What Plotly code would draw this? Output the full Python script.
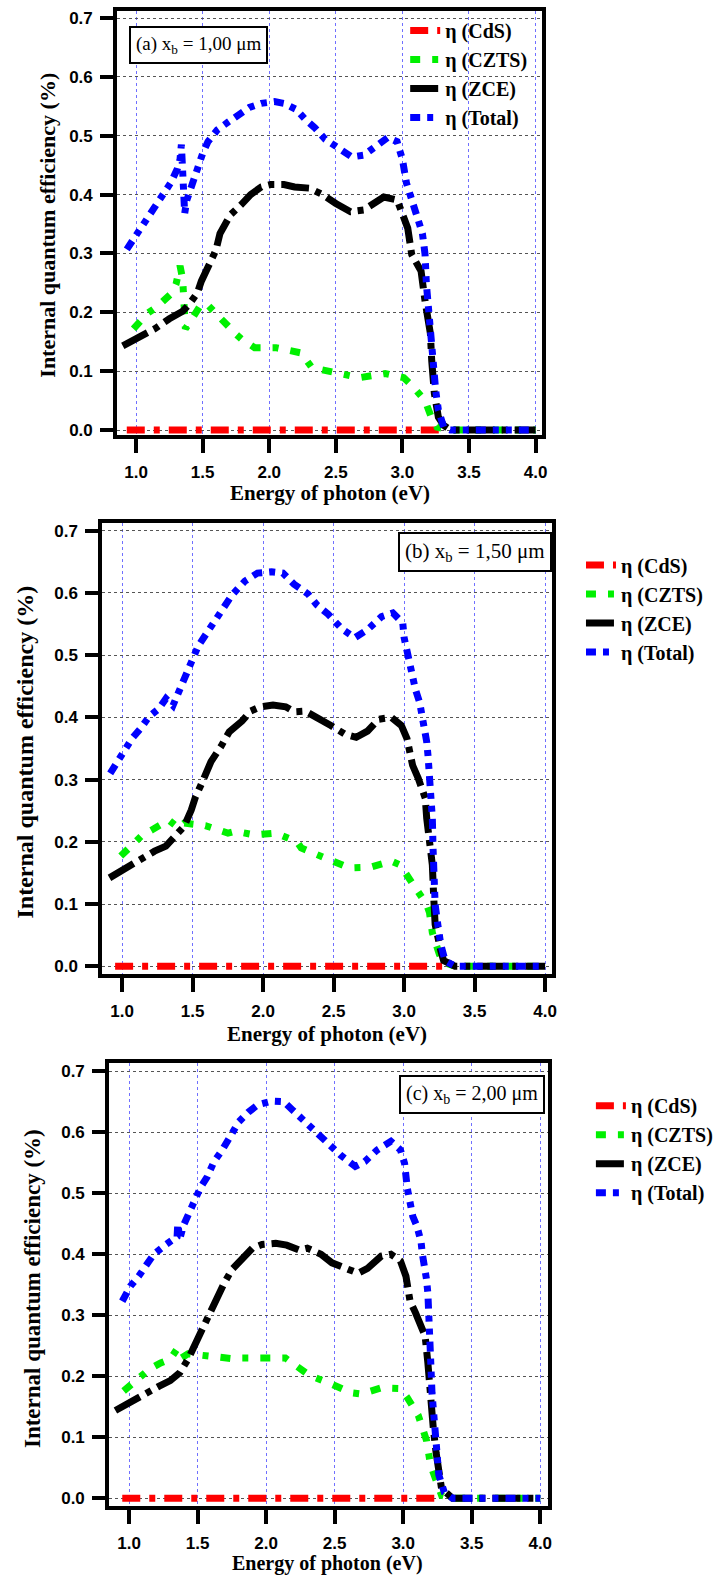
import plotly.graph_objects as go

# ---------------- data ----------------
x_ticks = [1.0, 1.5, 2.0, 2.5, 3.0, 3.5, 4.0]
x_tick_text = ["1.0", "1.5", "2.0", "2.5", "3.0", "3.5", "4.0"]
y_ticks = [0.0, 0.1, 0.2, 0.3, 0.4, 0.5, 0.6, 0.7]
y_tick_text = ["0.0", "0.1", "0.2", "0.3", "0.4", "0.5", "0.6", "0.7"]

series_names = ["η (CdS)", "η (CZTS)", "η (ZCE)", "η (Total)"]
panel_labels = ["(a) x<sub>b</sub> = 1,00 μm", "(b) x<sub>b</sub> = 1,50 μm", "(c) x<sub>b</sub> = 2,00 μm"]

# panel (a) x_b = 1.00 um
a_cds_E = [0.93, 1.30, 1.70, 2.10, 2.50, 2.90, 3.29]
a_cds_v = [0.0, 0.0, 0.0, 0.0, 0.0, 0.0, 0.0]
a_czts_E = [0.98, 1.09, 1.16, 1.27, 1.30, 1.33, 1.35, 1.36, 1.37, 1.40, 1.49, 1.54, 1.66, 1.75, 1.79, 1.89,
            2.05, 2.24, 2.32, 2.51, 2.68, 2.87, 3.01, 3.07, 3.17, 3.22, 3.26, 3.36, 3.60, 3.80, 4.00]
a_czts_v = [0.172, 0.199, 0.210, 0.233, 0.248, 0.279, 0.256, 0.219, 0.172, 0.182, 0.214, 0.212, 0.182, 0.163,
            0.155, 0.140, 0.140, 0.131, 0.106, 0.096, 0.089, 0.096, 0.089, 0.076, 0.050, 0.020, 0.005, 0, 0, 0, 0]
a_zce_E = [0.90, 1.00, 1.14, 1.25, 1.35, 1.40, 1.46, 1.49, 1.54, 1.60, 1.63, 1.71, 1.79, 1.86, 1.94, 2.01,
           2.11, 2.19, 2.30, 2.40, 2.50, 2.61, 2.71, 2.86, 2.96, 3.00, 3.04, 3.07, 3.14, 3.17, 3.21, 3.22,
           3.24, 3.27, 3.31, 3.36, 3.60, 3.80, 4.00]
a_zce_v = [0.143, 0.155, 0.172, 0.189, 0.202, 0.214, 0.233, 0.253, 0.278, 0.306, 0.334, 0.366, 0.383, 0.400,
           0.413, 0.417, 0.417, 0.413, 0.411, 0.400, 0.385, 0.371, 0.374, 0.396, 0.391, 0.366, 0.343, 0.298,
           0.270, 0.219, 0.164, 0.118, 0.062, 0.022, 0.008, 0, 0, 0, 0]
a_tot_E = [0.93, 0.98, 1.04, 1.08, 1.14, 1.20, 1.26, 1.31, 1.33, 1.34, 1.35, 1.355, 1.36, 1.365, 1.38, 1.40,
           1.44, 1.46, 1.50, 1.54, 1.61, 1.69, 1.76, 1.85, 1.94, 2.04, 2.11, 2.20, 2.27, 2.34, 2.42, 2.53,
           2.62, 2.71, 2.81, 2.89, 2.96, 3.00, 3.03, 3.06, 3.09, 3.12, 3.15, 3.16, 3.17, 3.18, 3.20, 3.22,
           3.25, 3.27, 3.31, 3.36, 3.60, 3.80, 4.00]
a_tot_v = [0.307, 0.324, 0.346, 0.360, 0.376, 0.400, 0.420, 0.444, 0.460, 0.485, 0.450, 0.420, 0.390, 0.368,
           0.390, 0.405, 0.430, 0.450, 0.470, 0.490, 0.510, 0.523, 0.534, 0.548, 0.555, 0.558, 0.555, 0.545,
           0.528, 0.514, 0.494, 0.477, 0.464, 0.467, 0.484, 0.497, 0.490, 0.460, 0.420, 0.400, 0.380, 0.354,
           0.334, 0.317, 0.298, 0.248, 0.190, 0.135, 0.067, 0.034, 0.005, 0, 0, 0, 0]

# panel (b) x_b = 1.50 um
b_cds_E = [0.95, 1.30, 1.70, 2.10, 2.50, 2.90, 3.28]
b_cds_v = [0.0, 0.0, 0.0, 0.0, 0.0, 0.0, 0.0]
b_czts_E = [0.99, 1.10, 1.14, 1.21, 1.33, 1.40, 1.44, 1.59, 1.75, 1.80, 1.89, 1.94, 2.09, 2.24, 2.27, 2.42,
            2.55, 2.61, 2.76, 2.91, 2.97, 3.06, 3.16, 3.18, 3.20, 3.25, 3.28, 3.36, 3.60, 3.80, 4.00]
b_czts_v = [0.177, 0.203, 0.210, 0.219, 0.235, 0.222, 0.230, 0.226, 0.214, 0.217, 0.214, 0.211, 0.214, 0.200,
            0.190, 0.177, 0.163, 0.158, 0.159, 0.169, 0.163, 0.131, 0.099, 0.086, 0.054, 0.019, 0.006, 0, 0, 0, 0]
b_zce_E = [0.91, 1.00, 1.11, 1.23, 1.31, 1.37, 1.44, 1.49, 1.52, 1.57, 1.63, 1.70, 1.76, 1.85, 1.91, 1.98,
           2.07, 2.16, 2.22, 2.30, 2.38, 2.48, 2.58, 2.66, 2.74, 2.82, 2.91, 2.98, 3.02, 3.04, 3.06, 3.10,
           3.15, 3.16, 3.18, 3.20, 3.21, 3.22, 3.26, 3.28, 3.36, 3.60, 3.80, 4.00]
b_zce_v = [0.142, 0.155, 0.171, 0.185, 0.193, 0.209, 0.225, 0.251, 0.272, 0.297, 0.329, 0.353, 0.377, 0.394,
           0.410, 0.417, 0.420, 0.417, 0.409, 0.410, 0.401, 0.387, 0.373, 0.368, 0.378, 0.397, 0.400, 0.387,
           0.366, 0.345, 0.323, 0.302, 0.270, 0.238, 0.206, 0.163, 0.110, 0.067, 0.025, 0.009, 0, 0, 0, 0]
b_tot_E = [0.915, 0.965, 1.02, 1.07, 1.13, 1.19, 1.26, 1.31, 1.36, 1.39, 1.43, 1.47, 1.51, 1.54, 1.61, 1.67,
           1.72, 1.78, 1.87, 1.96, 2.06, 2.14, 2.22, 2.32, 2.38, 2.46, 2.56, 2.65, 2.74, 2.84, 2.92, 2.99,
           3.00, 3.02, 3.04, 3.06, 3.08, 3.11, 3.13, 3.15, 3.16, 3.17, 3.18, 3.19, 3.20, 3.205, 3.21, 3.22,
           3.24, 3.26, 3.29, 3.36, 3.60, 3.80, 4.00]
b_tot_v = [0.310, 0.329, 0.348, 0.366, 0.382, 0.401, 0.414, 0.430, 0.419, 0.435, 0.454, 0.478, 0.498, 0.515,
           0.539, 0.561, 0.578, 0.597, 0.619, 0.632, 0.634, 0.632, 0.614, 0.598, 0.581, 0.566, 0.542, 0.528,
           0.541, 0.562, 0.568, 0.552, 0.528, 0.506, 0.483, 0.464, 0.445, 0.424, 0.400, 0.378, 0.361, 0.337,
           0.307, 0.275, 0.238, 0.190, 0.137, 0.099, 0.065, 0.035, 0.009, 0, 0, 0, 0]

# panel (c) x_b = 2.00 um
c_cds_E = [0.95, 1.30, 1.70, 2.10, 2.50, 2.90, 3.28]
c_cds_v = [0.0, 0.0, 0.0, 0.0, 0.0, 0.0, 0.0]
c_czts_E = [0.96, 1.10, 1.15, 1.23, 1.30, 1.35, 1.38, 1.43, 1.58, 1.75, 1.78, 1.95, 2.00, 2.14, 2.27, 2.32,
            2.47, 2.62, 2.69, 2.84, 2.98, 3.03, 3.11, 3.17, 3.20, 3.25, 3.28, 3.36, 3.60, 3.80, 4.00]
c_czts_v = [0.176, 0.204, 0.212, 0.222, 0.228, 0.245, 0.230, 0.237, 0.232, 0.229, 0.230, 0.230, 0.232, 0.230,
            0.209, 0.201, 0.188, 0.173, 0.171, 0.181, 0.180, 0.165, 0.136, 0.095, 0.054, 0.018, 0.005, 0, 0, 0, 0]
c_zce_E = [0.90, 1.00, 1.10, 1.22, 1.30, 1.37, 1.43, 1.48, 1.53, 1.57, 1.62, 1.69, 1.75, 1.83, 1.90, 1.97,
           2.07, 2.15, 2.24, 2.30, 2.40, 2.48, 2.61, 2.67, 2.74, 2.84, 2.91, 2.98, 3.02, 3.04, 3.05, 3.09,
           3.13, 3.16, 3.18, 3.19, 3.20, 3.22, 3.24, 3.26, 3.28, 3.36, 3.60, 3.80, 4.00]
c_zce_v = [0.144, 0.157, 0.171, 0.184, 0.193, 0.206, 0.228, 0.253, 0.277, 0.297, 0.320, 0.351, 0.375, 0.393,
           0.410, 0.416, 0.418, 0.415, 0.407, 0.410, 0.400, 0.386, 0.373, 0.369, 0.377, 0.397, 0.400, 0.389,
           0.364, 0.343, 0.323, 0.304, 0.282, 0.266, 0.222, 0.190, 0.152, 0.114, 0.075, 0.042, 0.016, 0, 0, 0, 0]
c_tot_E = [0.95, 1.01, 1.07, 1.13, 1.18, 1.27, 1.35, 1.355, 1.37, 1.40, 1.43, 1.47, 1.52, 1.57, 1.62, 1.68,
           1.72, 1.77, 1.80, 1.87, 1.94, 2.04, 2.13, 2.19, 2.27, 2.37, 2.45, 2.54, 2.65, 2.72, 2.81, 2.91,
           2.98, 3.01, 3.03, 3.05, 3.07, 3.10, 3.13, 3.14, 3.16, 3.17, 3.18, 3.185, 3.19, 3.195, 3.20, 3.21,
           3.23, 3.24, 3.26, 3.30, 3.36, 3.60, 3.80, 4.00]
c_tot_v = [0.323, 0.348, 0.364, 0.384, 0.400, 0.416, 0.429, 0.450, 0.426, 0.449, 0.465, 0.487, 0.509, 0.527,
           0.552, 0.571, 0.588, 0.609, 0.617, 0.633, 0.645, 0.651, 0.650, 0.637, 0.620, 0.601, 0.583, 0.563,
           0.544, 0.552, 0.571, 0.585, 0.571, 0.549, 0.508, 0.483, 0.462, 0.446, 0.421, 0.400, 0.380, 0.359,
           0.336, 0.318, 0.299, 0.271, 0.229, 0.173, 0.119, 0.065, 0.038, 0.010, 0, 0, 0, 0]

panels = [
    [(a_cds_E, a_cds_v), (a_czts_E, a_czts_v), (a_zce_E, a_zce_v), (a_tot_E, a_tot_v)],
    [(b_cds_E, b_cds_v), (b_czts_E, b_czts_v), (b_zce_E, b_zce_v), (b_tot_E, b_tot_v)],
    [(c_cds_E, c_cds_v), (c_czts_E, c_czts_v), (c_zce_E, c_zce_v), (c_tot_E, c_tot_v)],
]

# ---------------- styles ----------------
W, H = 726, 1579
colors = ["#ff0000", "#00f000", "#000000", "#0000ff"]
dashes = ["18px,9px,6px,9px", "10px,12px,6px,12px", "28px,7px,6px,7px", "10px,7px,6px,7px,6px,7px"]

# plot frames in pixels: (left, right, top, bottom)
frames = [(118, 546, 9, 435), (103, 556, 523, 976), (110, 552, 1066, 1511)]
x_ranges = [[0.858, 4.05], [0.859, 4.05], [0.855, 4.058]]
y_ranges = [[-0.0085, 0.712], [-0.012, 0.713], [-0.013, 0.713]]

legend_pos = [(408, 9), (585, 546), (595, 1089)]
box_pos = [(130, 24, "left", 19), (556, 532, "right", 21), (549, 1078, "right", 20)]
ytitle_pos = [(47, 224, 22), (25, 753, 24), (32, 1292, 23)]
xtitle_pos = [(332, 493, 21), (329, 1037, 21), (330, 1568, 20)]
xlabel_standoff = [5, 5, 4]


def px(xp):
    return xp / W


def py(yp):
    return 1 - yp / H


fig = go.Figure()
layout = dict(width=W, height=H, margin=dict(l=0, r=0, t=0, b=0),
              paper_bgcolor="white", plot_bgcolor="white", showlegend=True)
annotations = []
tick_font = dict(family="Liberation Sans", size=17, color="black", weight="bold")

for i, series in enumerate(panels):
    sfx = "" if i == 0 else str(i + 1)
    leg = "legend" if i == 0 else "legend" + str(i + 1)
    for j, (E, v) in enumerate(series):
        fig.add_trace(go.Scatter(
            x=E, y=v, mode="lines", name=series_names[j],
            line=dict(color=colors[j], width=7, dash=dashes[j]),
            xaxis="x" + sfx, yaxis="y" + sfx, legend=leg, showlegend=True,
        ))
    l, r, t, b = frames[i]
    layout["xaxis" + sfx] = dict(
        domain=[px(l), px(r)], anchor="y" + sfx, range=x_ranges[i],
        tickmode="array", tickvals=x_ticks, ticktext=x_tick_text,
        showline=True, linewidth=4, linecolor="black", mirror=True,
        ticks="outside", ticklen=14, tickwidth=4, tickcolor="black",
        tickfont=tick_font, ticklabelstandoff=xlabel_standoff[i],
        showgrid=True, gridcolor="#7070ff", griddash="dot", gridwidth=1, zeroline=False,
    )
    layout["yaxis" + sfx] = dict(
        domain=[py(b), py(t)], anchor="x" + sfx, range=y_ranges[i],
        tickmode="array", tickvals=y_ticks, ticktext=y_tick_text,
        showline=True, linewidth=4, linecolor="black", mirror=True,
        ticks="outside", ticklen=13, tickwidth=4, tickcolor="black",
        tickfont=tick_font, ticklabelstandoff=4,
        showgrid=True, gridcolor="#555555", griddash="dot", gridwidth=1, zeroline=False,
    )
    lx, ly = legend_pos[i]
    layout[leg] = dict(
        x=px(lx), y=py(ly), xanchor="left", yanchor="top",
        bgcolor="rgba(0,0,0,0)", borderwidth=0,
        font=dict(family="Liberation Serif", size=20, color="black", weight="bold"),
        itemwidth=30, tracegroupgap=0,
    )
    bx, by, banchor, bsize = box_pos[i]
    annotations.append(dict(
        text=panel_labels[i], xref="paper", yref="paper", x=px(bx), y=py(by),
        xanchor=banchor, yanchor="top", showarrow=False,
        font=dict(family="Liberation Serif", size=bsize, color="black"),
        bordercolor="black", borderwidth=2, borderpad=5, bgcolor="white",
    ))
    tx, ty, tsize = ytitle_pos[i]
    annotations.append(dict(
        text="Internal quantum efficiency (%)", xref="paper", yref="paper",
        x=px(tx), y=py(ty), xanchor="center", yanchor="middle", textangle=-90,
        showarrow=False, font=dict(family="Liberation Serif", size=tsize, color="black", weight="bold"),
    ))
    qx, qy, qsize = xtitle_pos[i]
    annotations.append(dict(
        text="Energy of photon (eV)", xref="paper", yref="paper",
        x=px(qx), y=py(qy), xanchor="center", yanchor="middle",
        showarrow=False, font=dict(family="Liberation Serif", size=qsize, color="black", weight="bold"),
    ))

layout["annotations"] = annotations
fig.update_layout(**layout)
fig.write_html("out.html")
